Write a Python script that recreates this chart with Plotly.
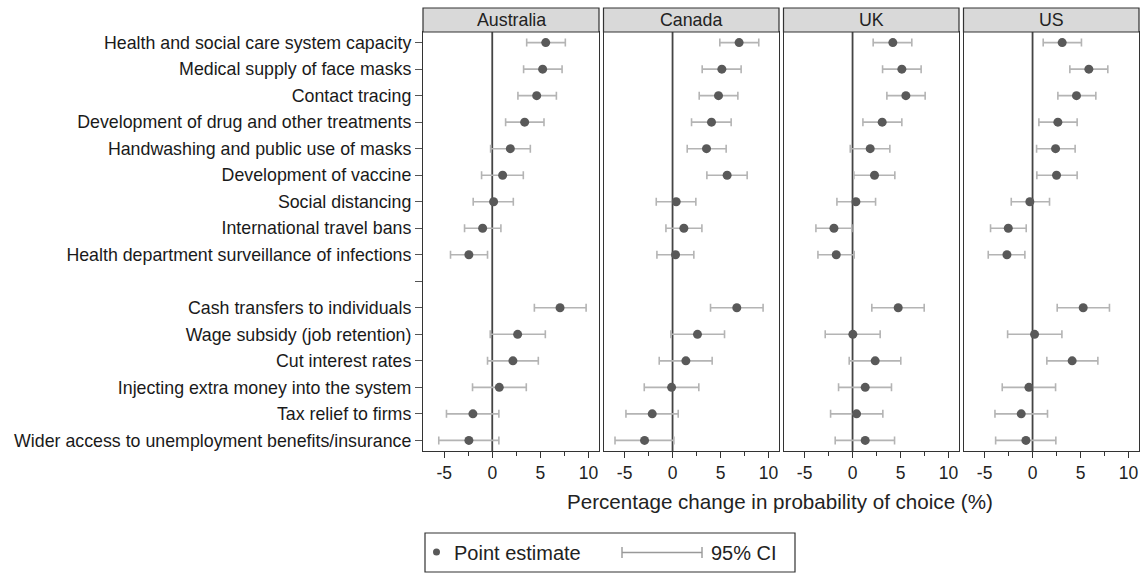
import plotly.graph_objects as go
from plotly.subplots import make_subplots

countries = ["Australia", "Canada", "UK", "US"]
categories = [
    "Health and social care system capacity",
    "Medical supply of face masks",
    "Contact tracing",
    "Development of drug and other treatments",
    "Handwashing and public use of masks",
    "Development of vaccine",
    "Social distancing",
    "International travel bans",
    "Health department surveillance of infections",
    " ",
    "Cash transfers to individuals",
    "Wage subsidy (job retention)",
    "Cut interest rates",
    "Injecting extra money into the system",
    "Tax relief to firms",
    "Wider access to unemployment benefits/insurance",
]
plot_cats = [c for c in categories if c.strip()]

est = {
    "Australia": [5.56, 5.24, 4.62, 3.37, 1.88, 1.08, 0.14, -1.0, -2.43,
                  7.05, 2.64, 2.15, 0.73, -2.01, -2.43],
    "Canada": [6.94, 5.14, 4.79, 4.06, 3.54, 5.69, 0.38, 1.18, 0.31,
               6.70, 2.60, 1.39, -0.10, -2.12, -2.92],
    "UK": [4.20, 5.14, 5.56, 3.09, 1.84, 2.29, 0.35, -1.94, -1.70,
           4.76, 0.03, 2.36, 1.32, 0.42, 1.32],
    "US": [3.09, 5.87, 4.58, 2.64, 2.40, 2.50, -0.28, -2.53, -2.67,
           5.28, 0.21, 4.13, -0.38, -1.18, -0.69],
}
lo = {
    "Australia": [3.58, 3.26, 2.67, 1.39, -0.17, -1.11, -1.98, -2.88, -4.34,
                  4.38, -0.21, -0.49, -2.05, -4.76, -5.56],
    "Canada": [4.93, 3.09, 2.78, 1.98, 1.53, 3.58, -1.70, -0.69, -1.63,
               3.96, -0.17, -1.39, -2.95, -4.86, -6.00],
    "UK": [2.15, 3.13, 3.58, 1.08, -0.24, 0.14, -1.63, -3.82, -3.61,
           2.01, -2.85, -0.35, -1.46, -2.29, -1.81],
    "US": [1.11, 3.89, 2.64, 0.66, 0.42, 0.45, -2.22, -4.38, -4.62,
           2.57, -2.60, 1.49, -3.16, -3.92, -3.85],
}
hi = {
    "Australia": [7.60, 7.26, 6.67, 5.38, 3.96, 3.23, 2.19, 0.90, -0.49,
                  9.76, 5.52, 4.79, 3.54, 0.69, 0.69],
    "Canada": [8.99, 7.15, 6.81, 6.11, 5.59, 7.78, 2.43, 3.06, 2.22,
               9.44, 5.42, 4.13, 2.74, 0.59, 0.14],
    "UK": [6.18, 7.15, 7.57, 5.14, 3.89, 4.41, 2.40, -0.07, 0.17,
           7.47, 2.88, 5.03, 4.06, 3.16, 4.38],
    "US": [5.10, 7.85, 6.60, 4.65, 4.44, 4.65, 1.77, -0.66, -0.80,
           8.02, 3.06, 6.81, 2.40, 1.56, 2.43],
}
xticks = [-5, 0, 5, 10]
xtick_labels = ["-5", "0", "5", "10"]
minor_ticks = [-2.5, 2.5, 7.5]

FONT = "Arial, Liberation Sans, sans-serif"
W, H = 1144, 573
px = lambda v: v / W
py = lambda v: 1 - v / H

fig = make_subplots(rows=1, cols=4, shared_yaxes=True)

domains = [(423, 599), (603.5, 779), (783.5, 959), (963.5, 1139)]
y_top, y_bot = 32, 451

for i, c in enumerate(countries):
    e = est[c]
    fig.add_trace(go.Scatter(
        x=e, y=plot_cats, mode="markers",
        marker=dict(size=9, color="#595959"),
        error_x=dict(type="data", symmetric=False,
                     array=[h - v for h, v in zip(hi[c], e)],
                     arrayminus=[v - l for l, v in zip(lo[c], e)],
                     color="#b4b4b4", thickness=1.6, width=4),
        showlegend=False, hoverinfo="skip"), row=1, col=i + 1)
    xa = "xaxis" if i == 0 else f"xaxis{i+1}"
    ya = "yaxis" if i == 0 else f"yaxis{i+1}"
    fig.layout[xa].update(
        domain=[px(domains[i][0]), px(domains[i][1])],
        range=[-7.2, 11.1], tickvals=xticks, ticktext=xtick_labels,
        ticks="outside", ticklen=6,
        tickcolor="#333", showline=True, mirror=True, linecolor="#333",
        linewidth=1.2, showgrid=False, zeroline=False,
        tickfont=dict(family=FONT, size=17.5, color="#222"),
        minor=dict(tickvals=minor_ticks, ticks="outside", ticklen=4, tickcolor="#333"),
    )
    fig.layout[ya].update(
        domain=[py(y_bot), py(y_top)],
        type="category", categoryorder="array", categoryarray=categories,
        range=[15.4, -0.4], showline=True, mirror=True, linecolor="#333",
        linewidth=1.2, showgrid=False, zeroline=False,
        ticks="outside" if i == 0 else "", ticklen=7, tickcolor="#555",
        showticklabels=(i == 0),
        tickfont=dict(family=FONT, size=17.8, color="#1a1a1a"),
    )
    xr = "x" if i == 0 else f"x{i+1}"
    yr = "y" if i == 0 else f"y{i+1}"
    fig.add_shape(type="line", xref=xr, yref=f"{yr} domain", x0=0, x1=0, y0=0, y1=1,
                  line=dict(color="#444", width=1.8), layer="below")
    # header strip
    fig.add_shape(type="rect", xref="paper", yref="paper",
                  x0=px(domains[i][0]), x1=px(domains[i][1]), y0=py(y_top), y1=py(8),
                  fillcolor="#d9d9d9", line=dict(color="#333", width=1.2))
    fig.add_annotation(text=c, xref="paper", yref="paper",
                       x=px((domains[i][0] + domains[i][1]) / 2), y=py(20),
                       showarrow=False, xanchor="center", yanchor="middle",
                       font=dict(family=FONT, size=17.8, color="#222"))

# x-axis title
fig.add_annotation(text="Percentage change in probability of choice (%)",
                   xref="paper", yref="paper", x=px(780), y=py(501),
                   showarrow=False, xanchor="center", yanchor="middle",
                   font=dict(family=FONT, size=20.6, color="#222"))

# legend
fig.add_shape(type="rect", xref="paper", yref="paper",
              x0=px(425), x1=px(795), y0=py(572), y1=py(533),
              line=dict(color="#333", width=1.2), fillcolor="white")
fig.add_shape(type="circle", xref="paper", yref="paper",
              x0=px(433), x1=px(440), y0=py(555.5), y1=py(548.5),
              fillcolor="#595959", line=dict(color="#595959", width=0))
fig.add_annotation(text="Point estimate", xref="paper", yref="paper",
                   x=px(452), y=py(552.5), showarrow=False, xanchor="left",
                   yanchor="middle", font=dict(family=FONT, size=20, color="#222"))
fig.add_shape(type="line", xref="paper", yref="paper",
              x0=px(622), x1=px(702), y0=py(552.5), y1=py(552.5),
              line=dict(color="#999", width=1.4))
for xv in (622, 702):
    fig.add_shape(type="line", xref="paper", yref="paper",
                  x0=px(xv), x1=px(xv), y0=py(547), y1=py(558),
                  line=dict(color="#999", width=1.4))
fig.add_annotation(text="95% CI", xref="paper", yref="paper",
                   x=px(709), y=py(552.5), showarrow=False, xanchor="left",
                   yanchor="middle", font=dict(family=FONT, size=20, color="#222"))

fig.update_layout(width=W, height=H, margin=dict(l=0, r=0, t=0, b=0),
                  plot_bgcolor="white", paper_bgcolor="white",
                  font=dict(family=FONT))
fig.write_html("out.html", config={"displayModeBar": False},
               post_script="document.body.style.margin='0';")
